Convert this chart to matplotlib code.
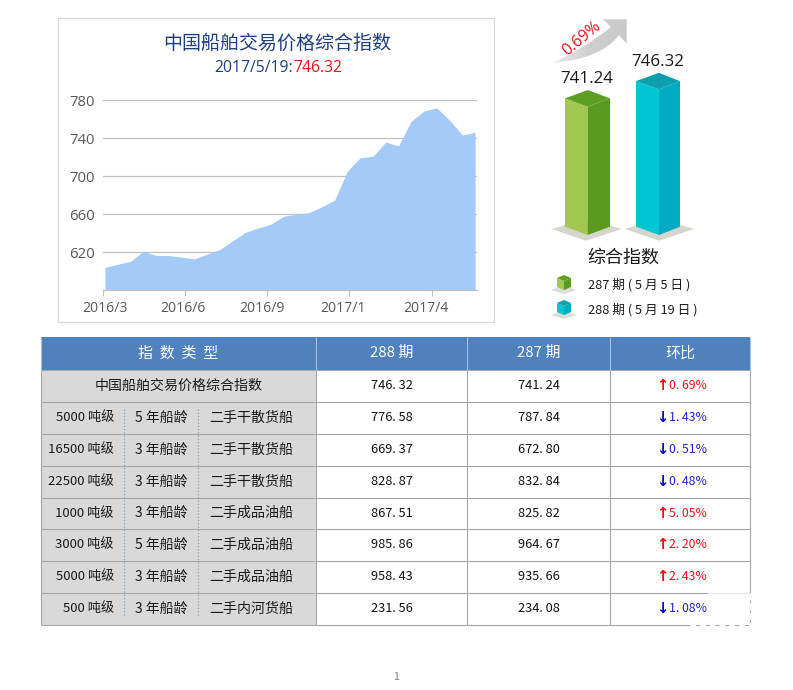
import matplotlib
matplotlib.use('Agg')
import matplotlib.pyplot as plt
from matplotlib.patches import Rectangle, Polygon, PathPatch
from matplotlib.path import Path
import numpy as np

plt.rcParams['font.family'] = ['Noto Sans CJK SC', 'DejaVu Sans']

# chart data
index_values = [604.2, 607.4, 610.5, 621.0, 616.8, 616.5, 615.0, 613.0, 618.0, 623.0,
                632.0, 641.0, 645.5, 649.5, 658.0, 660.0, 661.8, 668.0, 675.0, 705.6,
                719.6, 721.0, 736.0, 732.0, 758.0, 768.8, 772.0, 759.0, 743.5, 746.32]
y_ticks = [620, 660, 700, 740, 780]
x_labels = ['2016/3', '2016/6', '2016/9', '2017/1', '2017/4']
bar_values = [741.24, 746.32]
legend_labels = ['287 期 ( 5 月 5 日 )', '288 期 ( 5 月 19 日 )']

# table data
header = ['指  数  类  型', '288 期', '287 期', '环比']
tonnage = ['5000 吨级', '16500 吨级', '22500 吨级', '1000 吨级', '3000 吨级', '5000 吨级', '500 吨级']
ship_age = ['5 年船龄', '3 年船龄', '3 年船龄', '3 年船龄', '5 年船龄', '3 年船龄', '3 年船龄']
ship_type = ['二手干散货船', '二手干散货船', '二手干散货船', '二手成品油船',
             '二手成品油船', '二手成品油船', '二手内河货船']
current = [746.32, 776.58, 669.37, 828.87, 867.51, 985.86, 958.43, 231.56]
previous = [741.24, 787.84, 672.80, 832.84, 825.82, 964.67, 935.66, 234.08]
change = [0.69, -1.43, -0.51, -0.48, 5.05, 2.20, 2.43, -1.08]

W, H = 793, 690
fig = plt.figure(figsize=(W / 100, H / 100), dpi=100)

# whole page axes in pixel coordinates, for the frame, table and decorations
page = fig.add_axes([0, 0, 1, 1])
page.set_xlim(0, W)
page.set_ylim(H, 0)
page.axis('off')


def px_axes(left, top, right, bottom):
    return fig.add_axes([left / W, 1 - bottom / H, (right - left) / W, (bottom - top) / H])


# ---- area chart ----
page.add_patch(Rectangle((58, 18), 435.5, 303.5, fc='white', ec='#D9D9D9', lw=0.9))
page.text(277, 43, '中国船舶交易价格综合指数', color='#1F3F7F', fontsize=13.7, ha='center', va='center')
page.text(214, 68, '2017/5/19:', color='#1F3F7F', fontsize=11.3, ha='left', va='center', family='Open Sans')
page.text(293, 68, '746.32', color='#E8141C', fontsize=11.3, ha='left', va='center', family='Open Sans')

ax = px_axes(103.3, 100.3, 477, 290.3)
ax.patch.set_alpha(0)
x = np.arange(len(index_values))
ax.fill_between(x, index_values, 580, color='#A4CBF7', lw=0, zorder=3)
ax.set_xlim(-0.13, 29.15)
ax.set_ylim(580, 780)
ax.set_yticks(y_ticks)
ax.set_axisbelow(True)
ax.grid(axis='y', color='#BFBFBF', lw=0.9)
ax.tick_params(axis='y', length=0, labelsize=10.7, labelcolor='#595959', pad=6)
ax.set_xticks([-0.13, 6.3, 12.73, 19.16, 25.59])
ax.set_xticklabels([])
ax.tick_params(axis='x', which='major', length=4, color='#BFBFBF', width=0.8)
ax.set_xticks([0, 6.14, 12.28, 18.67, 25.16], minor=True)
ax.set_xticklabels(x_labels, minor=True)
ax.tick_params(axis='x', which='minor', length=0, labelsize=10.1, labelcolor='#595959', pad=8)
for name in ['top', 'left', 'right']:
    ax.spines[name].set_visible(False)
ax.spines['bottom'].set_color('#BFBFBF')
ax.spines['bottom'].set_linewidth(0.9)
ax.spines['bottom'].set_zorder(4)
for label in ax.get_yticklabels() + ax.get_xticklabels(minor=True):
    label.set_family('Open Sans')

# ---- 3D bars ----
# y scale: 17.3 px between the two bar tops for the 5.08 difference in value
px_per_unit = 3.4
base_value = 703.5
bar_top, bar_bottom = 50, 245
ax2 = px_axes(540, bar_top, 700, bar_bottom)
ax2.axis('off')
ax2.set_xlim(540, 700)
ax2.set_ylim(base_value - (bar_bottom - 226.7) / px_per_unit,
             base_value + (226.7 - bar_top) / px_per_unit)

bar_x = [(565, 587.7, 610), (636, 659, 680)]
bar_colors = [('#A2C851', '#5A9A20', '#5E9E22'), ('#00C5D3', '#00AAC3', '#0E9FAE')]
shadow_x = [(551.7, 586, 621.7), (625, 659, 694)]
drop = 8.3 / px_per_unit

for (xl, xm, xr), (c_left, c_right, c_top), (sl, sm, sr), v in zip(bar_x, bar_colors, shadow_x, bar_values):
    ax2.fill([sl, sm, sr, sm], [base_value - 2.3 / px_per_unit, base_value + 8 / px_per_unit,
                                base_value - 2.3 / px_per_unit, base_value - 14 / px_per_unit],
             color='#D4D5CB', lw=0)
    ax2.fill([xl, xm, xm, xl], [v, v - drop, base_value - drop, base_value], color=c_left, lw=0)
    ax2.fill([xm, xr, xr, xm], [v - drop, v, base_value, base_value - drop], color=c_right, lw=0)
    ax2.fill([xl, xm, xr, xm], [v, v + drop, v, v - drop], color=c_top, lw=0)
    ax2.text(xm - 1, v + 5.6, f'{v:.2f}', fontsize=12.2, color='#1A1A1A', ha='center', va='center',
             family='Open Sans')

# curved arrow over the bars, gradient clipped to the shape
verts = [(553.3, 62.7), (575, 52), (592, 42), (611, 27), (603, 19.3), (626.7, 19.3), (626.7, 43.7), (619, 35.3),
         (605, 52), (585, 60), (553.3, 62.7)]
codes = [Path.MOVETO, Path.CURVE4, Path.CURVE4, Path.CURVE4, Path.LINETO, Path.LINETO, Path.LINETO, Path.LINETO,
         Path.CURVE4, Path.CURVE4, Path.CURVE4]
arrow = PathPatch(Path(verts, codes), fc='none', ec='none')
page.add_patch(arrow)
grad = np.linspace(0, 1, 128).reshape(1, -1)
img = page.imshow(grad, extent=(553, 627, 64, 19), cmap=matplotlib.colors.LinearSegmentedColormap.from_list(
    'arrow', ['#EAEAEA', '#CFCFCF', '#C9C9C9']), aspect='auto', zorder=2)
img.set_clip_path(arrow)
page.set_xlim(0, W)
page.set_ylim(H, 0)
page.text(581.5, 38.5, '0.69%', color='#E8141C', fontsize=11.5, rotation=40, ha='center', va='center',
          family='Open Sans', zorder=3)

page.text(623, 257.5, '综合指数', fontsize=13, color='#1A1A1A', ha='center', va='center')

# legend cubes
cube_y = [283, 308]
for cy, (c_left, c_right, c_top), lab in zip(cube_y, bar_colors, legend_labels):
    page.add_patch(Polygon([(551, cy + 7), (564, cy + 2), (576, cy + 7), (564, cy + 11)], fc='#DDDED6', ec='none'))
    page.add_patch(Polygon([(557, cy - 5), (564, cy - 2), (564, cy + 7), (557, cy + 4)], fc=c_left, ec='none'))
    page.add_patch(Polygon([(564, cy - 2), (571, cy - 5), (571, cy + 4), (564, cy + 7)], fc=c_right, ec='none'))
    page.add_patch(Polygon([(557, cy - 5), (564, cy - 8), (571, cy - 5), (564, cy - 2)], fc=c_top, ec='none'))
    page.text(588.5, cy + 1.5, lab, fontsize=9.2, color='#1A1A1A', ha='left', va='center')

# ---- table ----
col_x = [41, 316, 467, 610, 749.5]
row_y = [337, 369.5, 401.5, 433.5, 465.5, 497.5, 529, 560.5, 592.5, 624.5]
grid_c = '#A6A6A6'

page.add_patch(Rectangle((col_x[0], row_y[0]), col_x[-1] - col_x[0], row_y[1] - row_y[0], fc='#4F81BD', ec='none'))
page.add_patch(Rectangle((col_x[0], row_y[1]), col_x[1] - col_x[0], row_y[-1] - row_y[1], fc='#D9D9D9', ec='none'))
for yy in row_y[1:]:
    page.plot([col_x[0], col_x[-1]], [yy, yy], color=grid_c, lw=0.8, solid_capstyle='butt')
for xx in col_x:
    page.plot([xx, xx], [row_y[1], row_y[-1]], color=grid_c, lw=0.8, solid_capstyle='butt')
    page.plot([xx, xx], [row_y[0], row_y[1]], color='#A9BEDC', lw=0.8, solid_capstyle='butt')

header_y = (row_y[0] + row_y[1]) / 2
page.text(178.5, header_y, header[0], color='white', fontsize=10.8, ha='center', va='center')
page.text(392, header_y, header[1], color='white', fontsize=10.8, ha='center', va='center')
page.text(539, header_y, header[2], color='white', fontsize=10.8, ha='center', va='center')
page.text(680, header_y, header[3], color='white', fontsize=10.8, ha='center', va='center')

page.text(178.5, (row_y[1] + row_y[2]) / 2, '中国船舶交易价格综合指数', color='#1A1A1A', fontsize=10.1,
          ha='center', va='center')

for i in range(len(tonnage)):
    cy = (row_y[i + 2] + row_y[i + 3]) / 2
    page.text(114, cy, tonnage[i], color='#1A1A1A', fontsize=9.5, ha='right', va='center')
    page.text(161.5, cy, ship_age[i], color='#1A1A1A', fontsize=10, ha='center', va='center')
    page.text(251, cy, ship_type[i], color='#1A1A1A', fontsize=10.1, ha='center', va='center')

for xx in (124, 198):
    page.plot([xx, xx], [row_y[2] + 7, row_y[-1] - 9], color='#7F9FC4', lw=0.9, ls=(0, (1, 1.6)))

for i in range(len(current)):
    cy = (row_y[i + 1] + row_y[i + 2]) / 2
    page.text(392, cy, f'{current[i]:.2f}'.replace('.', '. '), color='#111111', fontsize=9.2, ha='center', va='center')
    page.text(539, cy, f'{previous[i]:.2f}'.replace('.', '. '), color='#111111', fontsize=9.2, ha='center', va='center')
    up = change[i] > 0
    col = '#E8141C' if up else '#2222CC'
    page.text(662, cy, '↑' if up else '↓', color='red' if up else '#0000DD', fontsize=10.5, fontweight='bold',
              ha='center', va='center', family='DejaVu Sans')
    page.text(669, cy, f'{abs(change[i]):.2f}'.replace('.', '. ') + '%', color=col, fontsize=8.8, ha='left', va='center')

# washed out corner of the table
page.plot([708, 750], [row_y[8], row_y[8]], color='white', lw=0.9, alpha=0.75)
page.plot([690, 750], [row_y[9], row_y[9]], color='white', lw=1.0, ls=(0, (4, 3)))
page.plot([col_x[-1], col_x[-1]], [row_y[8], row_y[9]], color='white', lw=1.0, ls=(0, (5, 2)))

page.text(395.5, 677, '1', color='#7F7F7F', fontsize=7.5, ha='center', va='center')

plt.savefig('out.png', dpi=100)
